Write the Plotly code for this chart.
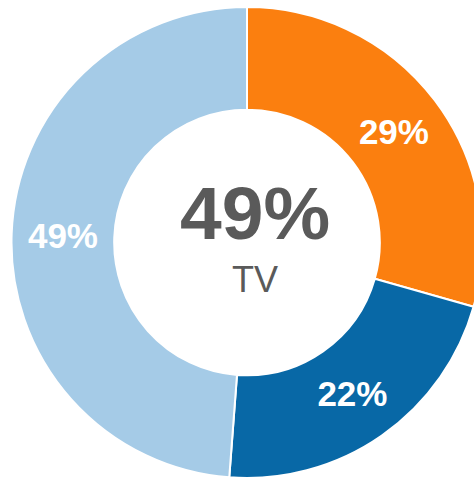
import plotly.graph_objects as go

labels = ["Orange", "Dark blue", "TV"]
values = [29.4, 21.8, 48.8]
colors = ["#fb7f0f", "#0868a6", "#a5cbe7"]
center_value = "49%"
center_label = "TV"

FONT = "Arial, 'Liberation Sans', sans-serif"

fig = go.Figure(go.Pie(
    labels=labels,
    values=values,
    hole=0.564,
    sort=False,
    direction="clockwise",
    rotation=0,
    marker=dict(colors=colors, line=dict(color="white", width=2)),
    texttemplate="%{percent:.0%}",
    textposition="inside",
    insidetextorientation="horizontal",
    textfont=dict(family=FONT, size=35, color="white", weight="bold"),
    hoverinfo="none",
    showlegend=False,
))

fig.add_annotation(text=center_value, x=0.516, y=0.5617, xref="paper", yref="paper",
                   showarrow=False, font=dict(family=FONT, size=75, color="#5a5a5a", weight="bold"))
fig.add_annotation(text=center_label, x=0.516, y=0.421, xref="paper", yref="paper",
                   showarrow=False, font=dict(family=FONT, size=36, color="#5a5a5a"))

fig.update_layout(
    width=494, height=478,
    margin=dict(l=0, r=0, t=7, b=0),
    paper_bgcolor="white", plot_bgcolor="white",
)

fig.write_html("out.html", config={"displayModeBar": False},
               post_script="document.body.style.margin='0';document.body.style.overflow='hidden';")
